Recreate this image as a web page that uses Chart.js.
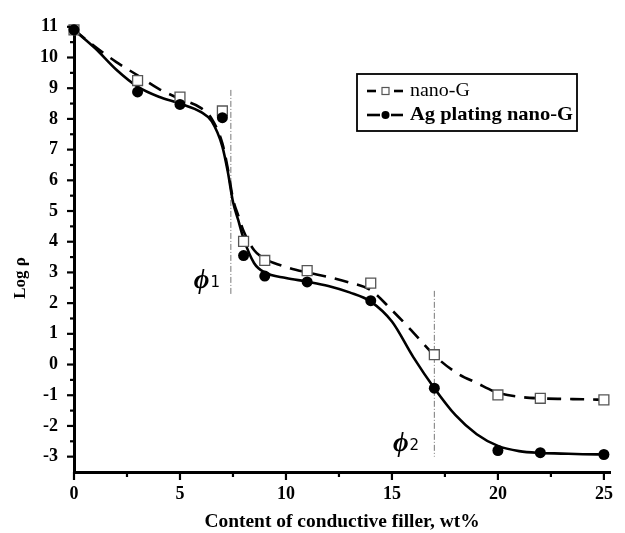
<!DOCTYPE html>
<html>
<head>
<meta charset="utf-8">
<script src="https://cdn.jsdelivr.net/npm/chart.js@4.4.1/dist/chart.umd.min.js"></script>
<style>
  html, body { margin: 0; padding: 0; background: #fff; }
  canvas { display: block; }
</style>
</head>
<body>
<canvas id="c" width="625" height="533"></canvas>
<script>
// Measured resistivity (log scale) against filler loading
const fillerContent = [0, 3, 5, 7, 8, 9, 11, 14, 17, 20, 22, 25];
const nanoG   = [10.9, 9.25, 8.71, 8.26, 4.01, 3.39, 3.06, 2.65, 0.32, -0.99, -1.1, -1.15];
const agNanoG = [10.9, 8.88, 8.47, 8.04, 3.55, 2.88, 2.69, 2.08, -0.77, -2.8, -2.87, -2.93];

// Fitted trend curves
const fitX       = [0, 1, 2, 3, 4, 5, 6, 6.5, 7, 7.25, 7.5, 7.75, 8, 8.5, 9, 10, 11, 12, 13, 14, 15, 16, 17, 18, 19, 20, 21, 22, 23, 24, 25];
const nanoGFit   = [10.9, 10.35, 9.85, 9.42, 8.98, 8.65, 8.35, 8.0, 7.2, 6.4, 5.4, 4.85, 4.35, 3.72, 3.45, 3.18, 3.0, 2.85, 2.67, 2.42, 1.77, 1.05, 0.3, -0.25, -0.6, -0.92, -1.05, -1.1, -1.12, -1.13, -1.15];
const agNanoGFit = [10.9, 10.3, 9.6, 9.05, 8.72, 8.5, 8.22, 7.92, 7.1, 6.3, 5.3, 4.7, 4.1, 3.3, 3.0, 2.82, 2.7, 2.56, 2.35, 2.05, 1.4, 0.25, -0.77, -1.65, -2.27, -2.65, -2.82, -2.88, -2.9, -2.92, -2.93];

// Percolation thresholds: [x, yFrom, yTo]
const phi1 = [7.4, 2.3, 8.95];
const phi2 = [17, 2.4, -3.0];

// Axis ticks
const xTickValues = [0, 5, 10, 15, 20, 25];
const yTickValues = [-3, -2, -1, 0, 1, 2, 3, 4, 5, 6, 7, 8, 9, 10, 11];

const SERIF = '"Liberation Serif", "Times New Roman", serif';
const pts = (xs, ys) => xs.map((v, i) => ({ x: v, y: ys[i] }));

const decor = {
  id: 'decor',
  afterDraw(chart) {
    const { ctx, chartArea: a, scales: { x, y } } = chart;
    ctx.save();
    ctx.strokeStyle = '#000';
    ctx.fillStyle = '#000';
    ctx.lineWidth = 2.2;
    // y tick marks (outside), major + half-step minor
    yTickValues.forEach(v => {
      const py = y.getPixelForValue(v);
      ctx.beginPath(); ctx.moveTo(a.left - 7, py); ctx.lineTo(a.left, py); ctx.stroke();
      const m = v - 0.5;
      if (m > y.min) {
        const pm = y.getPixelForValue(m);
        ctx.beginPath(); ctx.moveTo(a.left - 4, pm); ctx.lineTo(a.left, pm); ctx.stroke();
      }
    });
    // x tick marks (outside)
    xTickValues.forEach((v, i) => {
      const px = x.getPixelForValue(v);
      ctx.beginPath(); ctx.moveTo(px, a.bottom); ctx.lineTo(px, a.bottom + 8); ctx.stroke();
      if (i < xTickValues.length - 1) {
        const pm = x.getPixelForValue((v + xTickValues[i + 1]) / 2);
        ctx.beginPath(); ctx.moveTo(pm, a.bottom); ctx.lineTo(pm, a.bottom + 5); ctx.stroke();
      }
    });

    // axis titles
    ctx.textAlign = 'center';
    ctx.textBaseline = 'middle';
    ctx.save();
    ctx.translate(342, 522);
    ctx.scale(1.08, 1);
    ctx.font = 'bold 18px ' + SERIF;
    ctx.fillText('Content of conductive filler, wt%', 0, 0);
    ctx.restore();
    ctx.save();
    ctx.translate(21, 278);
    ctx.rotate(-Math.PI / 2);
    ctx.font = 'bold 17px ' + SERIF;
    ctx.fillText('Log \u03C1', 0, 0);
    ctx.restore();

    // threshold labels
    const phiLabel = (xv, yv, sub) => {
      const px = x.getPixelForValue(xv), py = y.getPixelForValue(yv);
      ctx.textAlign = 'left';
      ctx.textBaseline = 'alphabetic';
      ctx.font = 'italic bold 27px ' + SERIF;
      ctx.fillText('\u03D5', px, py);
      const w = ctx.measureText('\u03D5').width;
      ctx.font = '15px "DejaVu Sans", sans-serif';
      ctx.fillText(sub, px + w + 1, py - 1);
    };
    phiLabel(5.65, 2.5, '1');
    phiLabel(15.05, -2.8, '2');

    // legend
    ctx.lineWidth = 1.8;
    ctx.strokeRect(357, 74, 220, 57);
    const rows = [
      { yy: 91, dash: true, label: 'nano-G', bold: false },
      { yy: 115, dash: false, label: 'Ag plating nano-G', bold: true }
    ];
    rows.forEach(r => {
      ctx.lineWidth = 2.6;
      ctx.strokeStyle = '#000';
      ctx.beginPath(); ctx.moveTo(367, r.yy); ctx.lineTo(r.dash ? 376 : 380, r.yy); ctx.stroke();
      ctx.beginPath(); ctx.moveTo(r.dash ? 394 : 391, r.yy); ctx.lineTo(403, r.yy); ctx.stroke();
      if (r.dash) {
        ctx.lineWidth = 1.2;
        ctx.strokeStyle = '#555';
        ctx.fillStyle = '#fff';
        ctx.fillRect(382, r.yy - 3.5, 7, 7);
        ctx.strokeRect(382, r.yy - 3.5, 7, 7);
      } else {
        ctx.fillStyle = '#000';
        ctx.beginPath(); ctx.arc(385.5, r.yy, 4, 0, Math.PI * 2); ctx.fill();
      }
      ctx.fillStyle = '#000';
      ctx.textAlign = 'left';
      ctx.textBaseline = 'middle';
      ctx.save();
      ctx.translate(410, r.yy);
      ctx.scale(r.bold ? 1.08 : 1.05, 1);
      ctx.font = (r.bold ? 'bold ' : '') + '19px ' + SERIF;
      ctx.fillText(r.label, 0, 0);
      ctx.restore();
    });
    ctx.restore();
  }
};

new Chart(document.getElementById('c'), {
  type: 'scatter',
  data: {
    datasets: [
      {
        label: 'phi1', data: pts([phi1[0], phi1[0]], [phi1[1], phi1[2]]), showLine: true,
        borderColor: '#777', borderWidth: 1, borderDash: [6, 2, 1, 2], pointRadius: 0, order: 5
      },
      {
        label: 'phi2', data: pts([phi2[0], phi2[0]], [phi2[1], phi2[2]]), showLine: true,
        borderColor: '#777', borderWidth: 1, borderDash: [6, 2, 1, 2], pointRadius: 0, order: 5
      },
      {
        label: 'nano-G fit', data: pts(fitX, nanoGFit), showLine: true,
        borderColor: '#000', borderWidth: 2.6, borderDash: [14, 9], pointRadius: 0,
        cubicInterpolationMode: 'monotone', order: 4
      },
      {
        label: 'Ag plating nano-G fit', data: pts(fitX, agNanoGFit), showLine: true,
        borderColor: '#000', borderWidth: 2.6, pointRadius: 0,
        cubicInterpolationMode: 'monotone', order: 3
      },
      {
        label: 'nano-G', data: pts(fillerContent, nanoG), showLine: false,
        pointStyle: 'rect', pointRadius: 7, pointBorderWidth: 1.3,
        pointBorderColor: '#555', pointBackgroundColor: '#fff', clip: false, order: 2
      },
      {
        label: 'Ag plating nano-G', data: pts(fillerContent, agNanoG), showLine: false,
        pointStyle: 'circle', pointRadius: 5.5, pointBorderWidth: 0,
        pointBackgroundColor: '#000', clip: false, order: 1
      }
    ]
  },
  options: {
    responsive: false,
    animation: false,
    layout: { padding: { top: 22, right: 7, left: 0, bottom: 0 } },
    plugins: { legend: { display: false }, tooltip: { enabled: false } },
    scales: {
      x: {
        type: 'linear', min: 0, max: 25.3,
        afterFit: s => { s.height = 61; },
        afterBuildTicks: s => { s.ticks = xTickValues.map(v => ({ value: v })); },
        grid: { display: false, drawTicks: false },
        border: { display: true, width: 3, color: '#000' },
        ticks: { padding: 12, color: '#000', font: { family: SERIF, size: 18, weight: 'bold' }, maxRotation: 0 }
      },
      y: {
        type: 'linear', min: -3.5, max: 11,
        afterFit: s => { s.width = 74; },
        afterBuildTicks: s => { s.ticks = yTickValues.map(v => ({ value: v })); },
        grid: { display: false, drawTicks: false },
        border: { display: true, width: 3, color: '#000' },
        ticks: { padding: 16, color: '#000', font: { family: SERIF, size: 18, weight: 'bold' } }
      }
    }
  },
  plugins: [decor]
});
</script>
</body>
</html>
